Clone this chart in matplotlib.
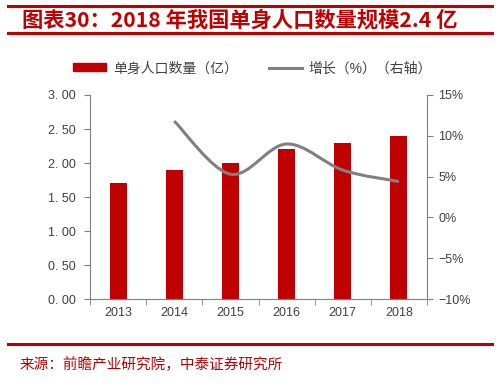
import numpy as np
import matplotlib.pyplot as plt
from matplotlib.path import Path
from matplotlib.patches import PathPatch, Patch
from matplotlib.lines import Line2D

plt.rcParams['font.family'] = ['Liberation Sans', 'Noto Sans CJK SC', 'DejaVu Sans']

years = ['2013', '2014', '2015', '2016', '2017', '2018']
singles = [1.70, 1.90, 2.00, 2.20, 2.30, 2.40]
growth_years = ['2014', '2015', '2016', '2017', '2018']
growth = [11.8, 5.3, 9.0, 5.8, 4.4]

red = '#C00000'
grey = '#808080'
txt = '#404040'

fig = plt.figure(figsize=(5, 3.83), dpi=100)
ax = fig.add_axes([0.18, 0.219, 0.674, 0.533])
x = np.arange(len(years))
ax.bar(x, singles, width=0.3, color=red, zorder=2)
ax.set_xlim(-0.5, 5.5)
ax.set_ylim(0, 3)
ax.set_yticks(np.arange(0, 3.01, 0.5))
ax.set_yticklabels([f'{v:.2f}'.replace('.', '. ') for v in np.arange(0, 3.01, 0.5)])
ax.set_xticks(x)
ax.set_xticklabels(years)
ax.set_xticks(np.arange(-0.5, 5.6, 1), minor=True)
ax.tick_params(axis='x', which='major', length=0, pad=6, labelsize=9, labelcolor=txt)
ax.tick_params(axis='x', which='minor', length=4, color=grey)
ax.tick_params(axis='y', length=4, color=grey, labelsize=9, labelcolor=txt, pad=6)
for s in ['top', 'right']:
    ax.spines[s].set_visible(False)
for s in ['left', 'bottom']:
    ax.spines[s].set_color(grey)

ax2 = ax.twinx()
ax2.set_ylim(-10, 15)
ax2.set_yticks(range(-10, 16, 5))
ax2.set_yticklabels([f'{v}%'.replace('-', '\u2212') for v in range(-10, 16, 5)])
ax2.tick_params(axis='y', length=4, color=grey, labelsize=9, labelcolor=txt, pad=4)
for s in ['top', 'left', 'bottom']:
    ax2.spines[s].set_visible(False)
ax2.spines['right'].set_color(grey)

# smoothed line (Excel style bezier through the points)
gx = [years.index(y) for y in growth_years]
pts = np.column_stack([gx, growth]).astype(float)
verts = [pts[0]]
codes = [Path.MOVETO]
n = len(pts)
for i in range(n - 1):
    p0 = pts[max(i - 1, 0)]
    p1 = pts[i]
    p2 = pts[i + 1]
    p3 = pts[min(i + 2, n - 1)]
    verts += [p1 + (p2 - p0) / 6, p2 - (p3 - p1) / 6, p2]
    codes += [Path.CURVE4] * 3
ax2.add_patch(PathPatch(Path(verts, codes), facecolor='none', edgecolor=grey,
                        lw=2.2, zorder=3))

# legend
handles = [Patch(color=red), Line2D([], [], color=grey, lw=2.2)]
fig.legend(handles, ['单身人口数量（亿）', '增长（%）（右轴）'], loc='center',
           bbox_to_anchor=(0.505, 0.822), ncol=2, frameon=False, fontsize=10,
           handlelength=2.4, handleheight=0.5, columnspacing=2.2, handletextpad=0.5,
           labelcolor=txt)

# title and frame lines
fig.add_artist(Line2D([0.016, 0.984], [0.985, 0.985], color=red, lw=2.2))
fig.add_artist(Line2D([0.016, 0.984], [0.913, 0.913], color=red, lw=2.2))
fig.text(0.044, 0.948, '图表30：2018 年我国单身人口数量规模2.4 亿', color=red,
         fontsize=15.3, fontweight='bold', style='italic', va='center',
         family=['Noto Sans CJK SC', 'DejaVu Sans'])
fig.add_artist(Line2D([0.016, 0.984], [0.102, 0.102], color=red, lw=2.2))
fig.text(0.04, 0.047, '来源：前瞻产业研究院，中泰证券研究所', color=red,
         fontsize=10.5, va='center', family=['Noto Sans CJK SC', 'DejaVu Sans'])

fig.savefig('out.png', dpi=100)
